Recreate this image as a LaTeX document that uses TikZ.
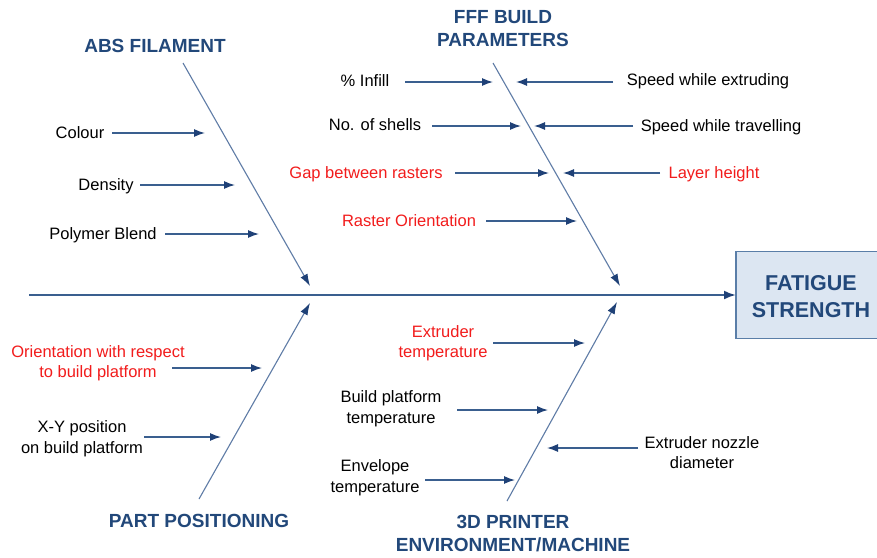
\documentclass[tikz,border=0pt]{standalone}
\usepackage{fontspec}
\setmainfont{Liberation Sans}
\usetikzlibrary{arrows.meta}
\definecolor{spinecol}{HTML}{3A5F8F}
\definecolor{bonecol}{HTML}{5F7CA6}
\definecolor{tipcol}{HTML}{1F4177}
\definecolor{titlecol}{HTML}{22487A}
\definecolor{redtxt}{HTML}{F21C1C}
\definecolor{boxfill}{HTML}{DCE6F2}
\definecolor{boxline}{HTML}{5A7EA8}
\tikzset{
  cause/.style={draw=spinecol, line width=1.3pt, -{Latex[length=11pt,width=8pt,fill=tipcol,color=tipcol]}},
  bone/.style={draw=bonecol, line width=1.1pt, -{Latex[length=12pt,width=8pt,fill=tipcol,color=tipcol]}},
  lbl/.style={font=\fontsize{16.5}{20.5}\selectfont, align=center, inner sep=0pt, text=black},
  redlbl/.style={lbl, text=redtxt},
  cat/.style={font=\fontsize{19}{23}\selectfont\bfseries, align=center, inner sep=0pt, text=titlecol},
}
\begin{document}
\begin{tikzpicture}[x=1pt,y=-1pt]
\clip (0,0) rectangle (877,557);
\fill[white] (0,0) rectangle (877,557);

% effect box
\node[draw=boxline, fill=boxfill, line width=1.3pt, minimum width=150pt, minimum height=87pt, outer sep=0pt, anchor=west, inner sep=0pt] (box) at (736,295) {};
\node[font=\fontsize{21.5}{27}\selectfont\bfseries, text=titlecol, align=center, inner sep=0pt] (effect) at (811,297) {FATIGUE\\STRENGTH};

% spine
\coordinate (spineL) at (29,295);
\draw[draw=spinecol, line width=2.2pt, -{Latex[length=12pt,width=9pt,fill=tipcol,color=tipcol]}] (spineL) -- (box.west);

% bones
\coordinate (absA) at (183,63);   \coordinate (absB) at (310,286);
\coordinate (fffA) at (493,63);   \coordinate (fffB) at (620,286);
\coordinate (posA) at (199,499);  \coordinate (posB) at (310,303);
\coordinate (prnA) at (507,501);  \coordinate (prnB) at (617,302);
\draw[bone] (absA) -- (absB);
\draw[bone] (fffA) -- (fffB);
\draw[bone] (posA) -- (posB);
\draw[bone] (prnA) -- (prnB);

% category titles
\node[cat] (absT) at (155,46) {ABS FILAMENT};
\node[cat] (fffT) at (503,28.5) {FFF BUILD\\PARAMETERS};
\node[cat] (posT) at (199,521) {PART POSITIONING};
\node[cat] (prnT) at (513,533.5) {3D PRINTER\\ENVIRONMENT/MACHINE};

% ABS filament causes
\node[lbl] (colour) at (80,133) {Colour};
\node[lbl] (density) at (106,186) {Density};
\node[lbl] (blend) at (103,235) {Polymer Blend};
\coordinate (c1a) at (112,133); \coordinate (c1b) at (205,133);
\coordinate (c2a) at (140,185); \coordinate (c2b) at (235,185);
\coordinate (c3a) at (165,234); \coordinate (c3b) at (259,234);
\draw[cause] (c1a) -- (c1b);
\draw[cause] (c2a) -- (c2b);
\draw[cause] (c3a) -- (c3b);

% FFF build parameter causes
\node[lbl] (infill) at (365,81) {\% Infill};
\node[lbl] (shells) at (375,125) {No. of shells};
\node[redlbl] (gap) at (366,174) {Gap between rasters};
\node[redlbl] (raster) at (409,221) {Raster Orientation};
\node[lbl] (spdext) at (708,81) {Speed while extruding};
\node[lbl] (spdtrv) at (721,127) {Speed while travelling};
\node[redlbl] (layer) at (714,174) {Layer height};
\coordinate (f1a) at (405,82);  \coordinate (f1b) at (493,82);
\coordinate (f2a) at (432,126); \coordinate (f2b) at (521,126);
\coordinate (f3a) at (455,173); \coordinate (f3b) at (549,173);
\coordinate (f4a) at (486,221); \coordinate (f4b) at (577,221);
\coordinate (f5a) at (613,82);  \coordinate (f5b) at (516,82);
\coordinate (f6a) at (633,126); \coordinate (f6b) at (534,126);
\coordinate (f7a) at (660,173); \coordinate (f7b) at (563,173);
\foreach \s/\e in {f1a/f1b,f2a/f2b,f3a/f3b,f4a/f4b,f5a/f5b,f6a/f6b,f7a/f7b}
  \draw[cause] (\s) -- (\e);

% part positioning causes
\node[redlbl] (orient) at (98,363) {Orientation with respect\\to build platform};
\node[lbl] (xypos) at (82,438.5) {X-Y position\\on build platform};
\coordinate (p1a) at (172,368); \coordinate (p1b) at (262,368);
\coordinate (p2a) at (144,437); \coordinate (p2b) at (221,437);
\draw[cause] (p1a) -- (p1b);
\draw[cause] (p2a) -- (p2b);

% printer environment causes
\node[redlbl] (exttemp) at (443,343) {Extruder\\temperature};
\node[lbl] (bedtemp) at (391,408.5) {Build platform\\temperature};
\node[lbl] (envtemp) at (375,477.5) {Envelope\\temperature};
\node[lbl] (nozzle) at (702,452.5) {Extruder nozzle\\diameter};
\coordinate (e1a) at (493,343); \coordinate (e1b) at (585,343);
\coordinate (e2a) at (457,410); \coordinate (e2b) at (548,410);
\coordinate (e3a) at (425,480); \coordinate (e3b) at (515,480);
\coordinate (e4a) at (638,448); \coordinate (e4b) at (547,448);
\foreach \s/\e in {e1a/e1b,e2a/e2b,e3a/e3b,e4a/e4b}
  \draw[cause] (\s) -- (\e);
\end{tikzpicture}
\end{document}
